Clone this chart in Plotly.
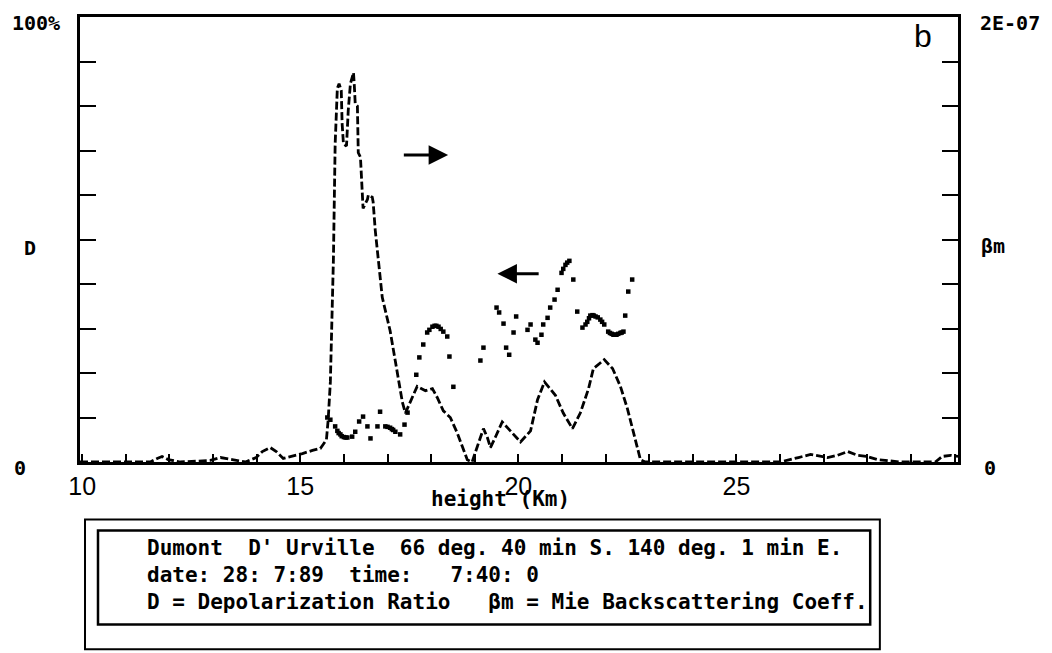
import plotly.graph_objects as go

# ---------------- data ----------------
# Mie backscattering coefficient (right axis), units of 1e-7
beta_height = [9.95, 10.87, 11.56, 11.72, 11.83, 11.97, 12.25, 12.94, 13.17, 13.44, 13.74,
               13.99, 14.13, 14.31, 14.45, 14.61, 14.82, 15.05, 15.28, 15.46, 15.60,
               15.64, 15.69, 15.76, 15.80, 15.85, 15.89, 15.94, 15.96, 15.99, 16.06,
               16.10, 16.15, 16.22, 16.24, 16.26, 16.31, 16.33, 16.38, 16.42, 16.44,
               16.54, 16.56, 16.65, 16.67, 16.72, 16.77, 16.88, 17.06, 17.22, 17.34,
               17.41, 17.57, 17.68, 17.87, 18.03, 18.14, 18.28, 18.44, 18.60, 18.83,
               18.94, 19.06, 19.20, 19.29, 19.36, 19.47, 19.63, 19.77, 20.05, 20.28,
               20.44, 20.60, 20.85, 21.03, 21.24, 21.42, 21.61, 21.72, 21.97, 22.16,
               22.34, 22.50, 22.64, 22.80, 22.91, 24.17, 26.00, 26.42, 26.70, 27.09,
               27.32, 27.55, 27.78, 27.98, 28.23, 28.76, 29.56, 29.72, 29.91, 30.08]
beta_m_e7 = [0.0, 0.0, 0.0, 0.016, 0.025, 0.011, 0.0, 0.007, 0.02, 0.011, 0.0,
             0.02, 0.047, 0.065, 0.047, 0.016, 0.025, 0.038, 0.052, 0.061, 0.10,
             0.19, 0.36, 0.91, 1.43, 1.68, 1.70, 1.67, 1.52, 1.43, 1.42,
             1.58, 1.70, 1.75, 1.69, 1.61, 1.60, 1.39, 1.37, 1.25, 1.14,
             1.18, 1.20, 1.19, 1.17, 1.04, 0.95, 0.74, 0.59, 0.40, 0.27,
             0.22, 0.29, 0.34, 0.32, 0.33, 0.29, 0.23, 0.20, 0.13, 0.01,
             0.0, 0.07, 0.15, 0.11, 0.065, 0.11, 0.18, 0.15, 0.09, 0.14,
             0.28, 0.36, 0.30, 0.22, 0.15, 0.22, 0.33, 0.42, 0.46, 0.42,
             0.34, 0.24, 0.13, 0.01, 0.0, 0.0, 0.0, 0.02, 0.034, 0.02,
             0.03, 0.047, 0.03, 0.025, 0.011, 0.0, 0.0, 0.025, 0.03, 0.025]

# Depolarization ratio (left axis), percent
dep_height = [15.62, 15.69, 15.80, 15.85, 15.88, 15.92, 15.95, 16.00, 16.04, 16.08, 16.19,
              16.26, 16.35, 16.44, 16.54, 16.61, 16.77, 16.83, 16.95, 17.00, 17.06,
              17.10, 17.13, 17.18, 17.29, 17.39, 17.46, 17.66, 17.73, 17.82, 17.91,
              17.96, 18.03, 18.08, 18.12, 18.17, 18.22, 18.28, 18.37, 18.42, 18.51,
              19.13, 19.20, 19.50, 19.56, 19.66, 19.72, 19.79, 19.89, 19.95, 20.21,
              20.28, 20.39, 20.44, 20.53, 20.57, 20.67, 20.73, 20.83, 20.90, 20.99,
              21.03, 21.08, 21.12, 21.17, 21.26, 21.35, 21.47, 21.54, 21.58, 21.62,
              21.65, 21.70, 21.73, 21.77, 21.82, 21.88, 21.92, 21.97, 22.06, 22.10,
              22.14, 22.18, 22.22, 22.25, 22.29, 22.34, 22.37, 22.41, 22.45, 22.52, 22.61]
dep_pct = [10.0, 9.5, 8.0, 7.0, 6.5, 6.2, 5.8, 5.6, 5.5, 5.5, 5.7,
           6.8, 9.1, 10.2, 8.0, 5.3, 8.0, 11.3, 8.0, 7.9, 7.7,
           7.4, 7.2, 6.8, 6.2, 8.4, 11.1, 19.6, 23.5, 26.4, 29.1,
           29.7, 30.4, 30.6, 30.6, 30.4, 29.9, 29.3, 28.2, 23.7, 16.9,
           22.8, 25.7, 34.7, 33.6, 31.1, 25.7, 24.1, 29.1, 32.7, 29.7,
           30.9, 27.5, 26.8, 28.6, 30.9, 32.4, 34.7, 36.5, 38.7, 42.5,
           43.4, 44.3, 44.8, 45.2, 41.0, 33.8, 30.2, 30.9, 31.5, 32.3,
           32.9, 33.0, 32.9, 32.7, 32.5, 32.0, 31.5, 30.9, 29.3, 29.0,
           28.8, 28.6, 28.6, 28.6, 28.8, 29.0, 29.1, 29.3, 32.9, 38.3, 41.0]

x_tick_vals = list(range(10, 31))
x_tick_text = [str(v) if v in (10, 15, 20, 25) else "" for v in x_tick_vals]
info_lines = [
    "Dumont  D' Urville  66 deg. 40 min S. 140 deg. 1 min E.",
    "date: 28: 7:89  time:   7:40: 0",
    "D = Depolarization Ratio   \u03b2m = Mie Backscattering Coeff.",
]

MONO = "DejaVu Sans Mono"
SANS = "Liberation Sans, Arial, sans-serif"

fig = go.Figure()
fig.add_trace(go.Scatter(
    x=beta_height, y=beta_m_e7, yaxis="y2", mode="lines",
    line=dict(color="black", width=2.8, dash="8px,3px"),
    showlegend=False, cliponaxis=False))
fig.add_trace(go.Scatter(
    x=dep_height, y=dep_pct, yaxis="y", mode="markers",
    marker=dict(color="black", size=4.5, symbol="square"),
    showlegend=False))

# page body has an 8px margin, so the figure is 8px smaller and margins are offset
fig.update_layout(
    width=1044, height=645,
    margin=dict(l=72, r=94, t=9, b=191, autoexpand=False),
    paper_bgcolor="white", plot_bgcolor="white",
    xaxis=dict(range=[9.95, 30.08], tickvals=x_tick_vals, ticktext=x_tick_text,
               ticks="inside", ticklen=8, tickwidth=2, tickcolor="black",
               showline=True, linewidth=3, linecolor="black", mirror=True,
               showgrid=False, zeroline=False, automargin=False,
               tickfont=dict(family=SANS, size=25, color="black")),
    yaxis=dict(range=[0, 100], tickvals=list(range(0, 101, 10)),
               ticks="inside", ticklen=16, tickwidth=2, tickcolor="black",
               showticklabels=False, showline=True, linewidth=3, linecolor="black",
               showgrid=False, zeroline=False, automargin=False),
    yaxis2=dict(range=[0, 2], overlaying="y", side="right",
                tickvals=[i * 0.2 for i in range(11)],
                ticks="inside", ticklen=16, tickwidth=2, tickcolor="black",
                showticklabels=False, showline=True, linewidth=3, linecolor="black",
                showgrid=False, zeroline=False, automargin=False),
)

def txt(x, y, s, size=21, xanchor="left", yanchor="middle", xref="paper", yref="paper",
        family=MONO, bold=True):
    fig.add_annotation(x=x, y=y, xref=xref, yref=yref, text=("<b>%s</b>" % s) if bold else s,
                       showarrow=False, xanchor=xanchor, yanchor=yanchor,
                       font=dict(family=family, size=size, color="black"))

# axis labels (paper coordinates: 0..1 spans the plot area)
txt(-0.0797, 1.018, "100%", size=20, yanchor="top")
txt(-0.066, 0.48, "D", size=20)
txt(-0.0774, -0.014, "0", size=20)
txt(1.0228, 1.018, "2E-07", size=20, yanchor="top")
txt(1.024, 0.485, "\u03b2m", size=20)
txt(1.027, -0.014, "0", size=20)
txt(19.59, -0.083, "height (Km)", size=21, xanchor="center", xref="x")
txt(0.960, 0.957, "b", size=32, xanchor="center", family=SANS, bold=False)

# arrows
fig.add_annotation(x=18.39, y=69.0, ax=17.34, ay=69.0, xref="x", yref="y", axref="x", ayref="y",
                   showarrow=True, arrowhead=2, arrowsize=1.3, arrowwidth=3, arrowcolor="black", text="")
fig.add_annotation(x=19.52, y=42.3, ax=20.50, ay=42.3, xref="x", yref="y", axref="x", ayref="y",
                   showarrow=True, arrowhead=2, arrowsize=1.3, arrowwidth=3, arrowcolor="black", text="")

# info box
fig.add_shape(type="rect", xref="paper", yref="paper", x0=0.0057, x1=0.911, y0=-0.421, y1=-0.129,
              line=dict(color="black", width=2))
fig.add_shape(type="rect", xref="paper", yref="paper", x0=0.0205, x1=0.900, y0=-0.365, y1=-0.154,
              line=dict(color="black", width=2.5))
for line, yp in zip(info_lines, [-0.194, -0.255, -0.315]):
    txt(0.074, yp, line.replace(" ", "&nbsp;"), size=21)

fig.write_html("out.html")
